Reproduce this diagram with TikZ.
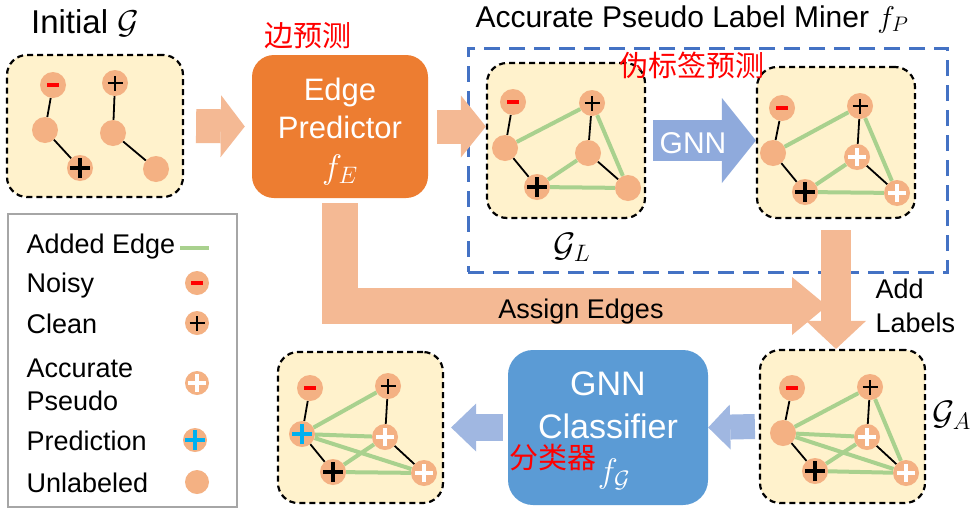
\RequirePackage{fix-cm}
\documentclass[tikz,border=0pt]{standalone}
\usepackage{fontspec}
\setmainfont{Liberation Sans}
\newfontfamily\cjk{Noto Sans CJK SC}
\usetikzlibrary{arrows.meta}

\definecolor{nodeor}{HTML}{F4B183}
\definecolor{arrowor}{HTML}{F4B994}
\definecolor{boxyel}{HTML}{FFF2CC}
\definecolor{edgegreen}{HTML}{A9D18E}
\definecolor{predor}{HTML}{ED7D31}
\definecolor{clsblue}{HTML}{5B9BD5}
\definecolor{minerblue}{HTML}{4472C4}
\definecolor{arrowblue}{HTML}{8FAADC}
\definecolor{plusblue}{HTML}{00B0F0}
\definecolor{leggray}{HTML}{A6A6A6}

\def\plusmark#1#2#3{\draw[#1, line width=#2] (path picture bounding box.center) +(-#3,0pt) -- +(#3,0pt) +(0pt,-#3) -- +(0pt,#3);}

\tikzset{
	gbox/.style={draw, fill=boxyel, line width=2.2pt, dash pattern=on 6pt off 4pt, rounded corners=20pt},
	gnode/.style={circle, fill=nodeor, inner sep=0pt, minimum size=26pt},
	noisy/.style={gnode, path picture={\fill[red] ([shift={(-6pt,-1.7pt)}]path picture bounding box.center) rectangle +(12pt,3.4pt);}},
	clean/.style={gnode, path picture={\plusmark{black}{2.4pt}{7.5pt}}},
	cleanbig/.style={gnode, path picture={\plusmark{black}{3.6pt}{10pt}}},
	pseudo/.style={gnode, path picture={\plusmark{white}{3.4pt}{9pt}}},
	predicted/.style={gnode, path picture={\plusmark{plusblue}{3.4pt}{10pt}}},
	oldedge/.style={line width=1.8pt},
	newedge/.style={edgegreen, line width=4pt},
	blockarrow/.style n args={4}{#1, line width=#2, -{Triangle[length=#3, width=#4, line width=0pt]}},
	txt/.style={font=\fontsize{30}{34}\selectfont},
	boxtxt/.style={white, anchor=base, font=\fontsize{31}{35}\selectfont},
	legtxt/.style={anchor=base west, font=\fontsize{27}{31}\selectfont},
	redtxt/.style={red, font=\cjk\fontsize{29}{33}\selectfont}
}

\begin{document}
\begin{tikzpicture}[x=1pt, y=-1pt]
			%%%%% START %%%%%
			\fill[white] (0,0) rectangle (972,509);
			\useasboundingbox (0,0) rectangle (972,509);
			
			\node[draw=minerblue, line width=3pt, dash pattern=on 16pt off 9pt, minimum width=479pt, minimum height=224pt] (miner) at (707.5,160) {};
			\node[txt, anchor=base west] (minertitle) at (472,27) {Accurate Pseudo Label Miner $f_P$};
			
			\node[gbox, minimum width=176pt, minimum height=142pt] (init) at (95,126) {};
			\node[gbox, minimum width=158pt, minimum height=155pt] (boxl) at (566,140.5) {};
			\node[gbox, minimum width=158pt, minimum height=151pt] (boxp) at (836,142.5) {};
			\node[gbox, minimum width=165pt, minimum height=153pt] (boxa) at (842.5,426.5) {};
			\node[gbox, minimum width=165pt, minimum height=151pt] (boxo) at (360.5,427.5) {};
			
			\node[fill=predor, rounded corners=22pt, minimum width=176pt, minimum height=143pt] (edgepred) at (340,126.5) {};
			\node[fill=clsblue, rounded corners=25pt, minimum width=200pt, minimum height=155pt] (cls) at (608,427.5) {};
			
			% block arrows
			\draw[blockarrow={arrowor}{34pt}{24pt}{62pt}] ([xshift=12pt]init.east) -- ([xshift=-7pt]edgepred.west);
			\draw[blockarrow={arrowor}{34pt}{25pt}{62pt}] ([xshift=9pt]edgepred.east) -- (boxl.west |- edgepred.east);
			\draw[blockarrow={arrowblue}{41pt}{34pt}{85pt}] ([xshift=7pt]boxl.east) -- (boxp.west |- boxl.east);
			\coordinate (assignend) at (827,306);
			\draw[blockarrow={arrowor}{36pt}{35pt}{58pt}] ([yshift=-5pt]edgepred.south) |- (assignend);
			\draw[blockarrow={arrowor}{30pt}{28pt}{60pt}] ([yshift=-11pt]boxp.south) -- (boxp.south |- boxa.north);
			\draw[blockarrow={arrowblue!85}{25pt}{22pt}{45pt}] ([xshift=-4pt]boxa.west) -- (cls.east);
			\draw[blockarrow={arrowblue!85}{27pt}{25pt}{48pt}] ([xshift=-5pt]cls.west) -- ([xshift=7pt]boxo.east);
			
			\node[txt, anchor=base, font=\fontsize{33}{37}\selectfont] (inittitle) at (85,33) {Initial $\mathcal{G}$};
			\node[redtxt] (edgecn) at (308,36) {边预测};
			\node[boxtxt] (edgetxt) at (340,100) {Edge};
			\node[boxtxt] (predtxt) at (340,138) {Predictor};
			\node[boxtxt, font=\fontsize{34}{38}\selectfont] (fetxt) at (340,178) {$f_E$};
			\node[redtxt] (pseudocn) at (692,65) {伪标签预测};
			\node[txt, white, anchor=base] (gnnarrowtxt) at (693,153) {GNN};
			\node[txt, anchor=base, font=\fontsize{34}{38}\selectfont] (gltxt) at (572,256) {$\mathcal{G}_L$};
			\node[anchor=base, font=\fontsize{27}{31}\selectfont] (assigntxt) at (581,318) {Assign Edges};
			\node[legtxt] (addtxt) at (872,298) {Add};
			\node[legtxt] (labelstxt) at (872,332) {Labels};
			\node[txt, anchor=base west, font=\fontsize{34}{38}\selectfont] (gatxt) at (929,424) {$\mathcal{G}_A$};
			\node[boxtxt, font=\fontsize{34}{38}\selectfont] (gnntxt) at (608,395) {GNN};
			\node[boxtxt, font=\fontsize{34}{38}\selectfont] (clstxt) at (608,438) {Classifier};
			\node[redtxt] (clscn) at (553,458) {分类器};
			\node[boxtxt, font=\fontsize{34}{38}\selectfont] (fgtxt) at (614,482) {$f_{\mathcal{G}}$};
			
			% initial graph
			\node[noisy] (i1) at (53,85) {};
			\node[gnode] (i2) at (45,130) {};
			\node[cleanbig] (i3) at (80,168) {};
			\node[clean] (i4) at (115,83) {};
			\node[gnode] (i5) at (113,133) {};
			\node[gnode] (i6) at (156,169) {};
			\draw[oldedge] (i1) -- (i2) -- (i3);
			\draw[oldedge] (i4) -- (i5) -- (i6);
			
			% graph with added edges
			\node[noisy] (l1) at (513,102) {};
			\node[clean] (l2) at (592,103) {};
			\node[gnode] (l3) at (505,148) {};
			\node[gnode] (l4) at (588,153) {};
			\node[cleanbig] (l5) at (537,187) {};
			\node[gnode] (l6) at (628,188) {};
			\draw[oldedge] (l1) -- (l3) -- (l5);
			\draw[oldedge] (l2) -- (l4) -- (l6);
			\draw[newedge] (l3) -- (l2) -- (l6) -- (l5) -- (l4);
			
			% graph with pseudo labels
			\node[noisy] (p1) at (782,108) {};
			\node[clean] (p2) at (860,106) {};
			\node[gnode] (p3) at (773,153) {};
			\node[pseudo] (p4) at (857,157) {};
			\node[cleanbig] (p5) at (805,192) {};
			\node[pseudo] (p6) at (897,193) {};
			\draw[oldedge] (p1) -- (p3) -- (p5);
			\draw[oldedge] (p2) -- (p4) -- (p6);
			\draw[newedge] (p3) -- (p2) -- (p6) -- (p5) -- (p4);
			
			% augmented graph
			\node[noisy] (a1) at (792,388) {};
			\node[clean] (a2) at (870,387) {};
			\node[gnode] (a3) at (783,433) {};
			\node[pseudo] (a4) at (867,437) {};
			\node[cleanbig] (a5) at (815,471) {};
			\node[pseudo] (a6) at (906,473) {};
			\draw[oldedge] (a1) -- (a3) -- (a5);
			\draw[oldedge] (a2) -- (a4) -- (a6);
			\draw[newedge] (a3) -- (a2) -- (a6) -- (a5) -- (a4);
			\draw[newedge] (a3) -- (a4);
			\draw[newedge] (a3) -- (a6);
			
			% output graph
			\node[noisy] (o1) at (310,388) {};
			\node[clean] (o2) at (388,386) {};
			\node[predicted] (o3) at (302,434) {};
			\node[pseudo] (o4) at (385,437) {};
			\node[cleanbig] (o5) at (333,472) {};
			\node[pseudo] (o6) at (424,473) {};
			\draw[oldedge] (o1) -- (o3) -- (o5);
			\draw[oldedge] (o2) -- (o4) -- (o6);
			\draw[newedge] (o2) -- (o3) -- (o4) -- (o5) -- (o6) -- (o3);
			
			% legend
			\node[draw=leggray, line width=2pt, minimum width=229pt, minimum height=293pt] (legend) at (122.5,360.5) {};
			\node[legtxt] (legadded) at (23,253) {Added Edge};
			\coordinate (leglinea) at (180,248);
			\coordinate (leglineb) at (209,248);
			\draw[newedge] (leglinea) -- (leglineb);
			\node[legtxt] (legnoisy) at (23,292) {Noisy};
			\node[noisy, minimum size=24pt] (legn) at (197,283) {};
			\node[legtxt] (legclean) at (23,333) {Clean};
			\node[clean, minimum size=24pt] (legc) at (197,323) {};
			\node[legtxt] (legacc) at (23,377) {Accurate};
			\node[legtxt] (legpseudo) at (23,410) {Pseudo};
			\node[pseudo, minimum size=24pt] (legp) at (197,383) {};
			\node[legtxt] (legpred) at (23,450) {Prediction};
			\node[predicted, minimum size=24pt] (legb) at (195,440) {};
			\node[legtxt] (legunl) at (23,492) {Unlabeled};
			\node[gnode, minimum size=24pt] (legu) at (197,482) {};
			
			%%%%% END %%%%%
\end{tikzpicture}
\end{document}
